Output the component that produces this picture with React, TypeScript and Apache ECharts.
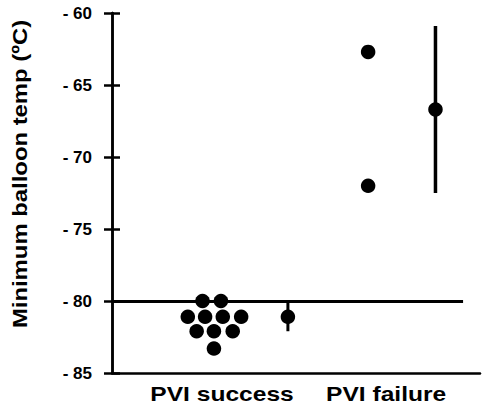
import React, { useEffect, useRef } from "react";
import * as echarts from "echarts";

// Category labels and where they sit on the (hidden) x scale
const categories = ["PVI success", "PVI failure"];
const categoryX = [29.9, 74.5];

// Individual patients - PVI success (x = jitter position, y = temperature)
const successX = [24.6, 29.6, 20.6, 25.3, 30.1, 35.1, 23.0, 27.7, 32.8, 27.7];
const successTemp = [-80.0, -80.0, -81.1, -81.1, -81.1, -81.1, -82.1, -82.1, -82.1, -83.3];

// Individual patients - PVI failure
const failureX = [69.6, 69.6];
const failureTemp = [-62.7, -72.0];

// Mean and spread per group
const summaryX = [47.8, 87.9];
const summaryMean = [-81.1, -66.7];
const summaryLow = [-82.1, -72.5];
const summaryHigh = [-80.1, -60.9];

// Reference line
const refValue = -80;
const refEndX = 95.4;

// Y axis
const yMin = -85;
const yMax = -60;
const yStep = 5;
const yTitle = "Minimum balloon temp (ºC)";

const FONT = "Liberation Sans";

export default function App() {
  const ref = useRef<HTMLDivElement>(null);

  useEffect(() => {
    if (!ref.current) return;
    const chart = echarts.init(ref.current, undefined, { renderer: "svg" });

    const yAxisBase = {
      type: "value" as const,
      min: yMin,
      max: yMax,
      interval: yStep,
      position: "left" as const,
      offset: 0,
      splitLine: { show: false },
    };

    chart.setOption({
      animation: false,
      backgroundColor: "#ffffff",
      grid: { left: 112, right: 3, top: 13, bottom: 34 },
      xAxis: {
        type: "value",
        min: 0,
        max: 100,
        axisLine: { show: true, lineStyle: { color: "#000", width: 2.5 } },
        axisTick: { show: false },
        axisLabel: { show: false },
        splitLine: { show: false },
      },
      yAxis: [
        {
          ...yAxisBase,
          axisLine: { show: true, lineStyle: { color: "#000", width: 2.5 } },
          axisTick: { show: true, inside: false, length: 8, lineStyle: { color: "#000", width: 2.5 } },
          axisLabel: {
            show: true,
            margin: 20,
            color: "#000",
            fontFamily: FONT,
            fontWeight: 700,
            fontSize: 17,
            formatter: (v: number) => "- " + Math.abs(v),
          },
        },
        {
          ...yAxisBase,
          axisLine: { show: true, lineStyle: { color: "#000", width: 2.5 } },
          axisTick: { show: true, inside: true, length: 8, lineStyle: { color: "#000", width: 2.5 } },
          axisLabel: { show: false },
        },
      ],
      series: [
        {
          type: "scatter",
          symbol: "circle",
          symbolSize: 14.5,
          itemStyle: { color: "#000", opacity: 1 },
          z: 3,
          data: successX.map((x, i) => [x, successTemp[i]]),
          markLine: {
            silent: true,
            symbol: "none",
            label: { show: false },
            lineStyle: { color: "#000", width: 3, type: "solid", opacity: 1 },
            data: [[{ coord: [0, refValue] }, { coord: [refEndX, refValue] }]],
          },
        },
        {
          type: "scatter",
          symbol: "circle",
          symbolSize: 14.5,
          itemStyle: { color: "#000", opacity: 1 },
          z: 3,
          data: failureX.map((x, i) => [x, failureTemp[i]]),
        },
        {
          type: "custom",
          z: 2,
          encode: { x: 0, y: [1, 2] },
          data: summaryX.map((x, i) => [x, summaryLow[i], summaryHigh[i]]),
          renderItem: (params: any, api: any) => {
            const x = api.value(0);
            const p1 = api.coord([x, api.value(1)]);
            const p2 = api.coord([x, api.value(2)]);
            return {
              type: "line",
              shape: { x1: p1[0], y1: p1[1], x2: p2[0], y2: p2[1] },
              style: { stroke: "#000", lineWidth: params.dataIndex === 0 ? 3 : 3.5 },
            };
          },
        },
        {
          type: "scatter",
          symbol: "circle",
          symbolSize: 14.5,
          itemStyle: { color: "#000", opacity: 1 },
          z: 3,
          data: summaryX.map((x, i) => [x, summaryMean[i]]),
        },
      ],
    });

    // Category labels and rotated axis title, placed through the chart's own scales
    const graphics: any[] = categories.map((c, i) => {
      const p = chart.convertToPixel({ gridIndex: 0 }, [categoryX[i], yMin]) as number[];
      return {
        type: "text",
        x: p[0],
        y: p[1] + 21.5,
        scaleX: 1.26,
        style: {
          text: c,
          fill: "#000",
          font: `bold 19.5px ${FONT}`,
          textAlign: "center",
          textVerticalAlign: "middle",
        },
      };
    });
    const top = chart.convertToPixel({ gridIndex: 0 }, [0, yMax]) as number[];
    const bottom = chart.convertToPixel({ gridIndex: 0 }, [0, yMin]) as number[];
    graphics.push({
      type: "text",
      x: 19.5,
      y: (top[1] + bottom[1]) / 2 - 19,
      rotation: Math.PI / 2,
      scaleX: 1.136,
      style: {
        text: yTitle,
        fill: "#000",
        font: `bold 21px ${FONT}`,
        textAlign: "center",
        textVerticalAlign: "middle",
      },
    });
    chart.setOption({ graphic: graphics });

    return () => chart.dispose();
  }, []);

  return (
    <div
      ref={ref}
      style={{ position: "fixed", left: 0, top: 0, width: 483, height: 407, background: "#fff" }}
    />
  );
}
